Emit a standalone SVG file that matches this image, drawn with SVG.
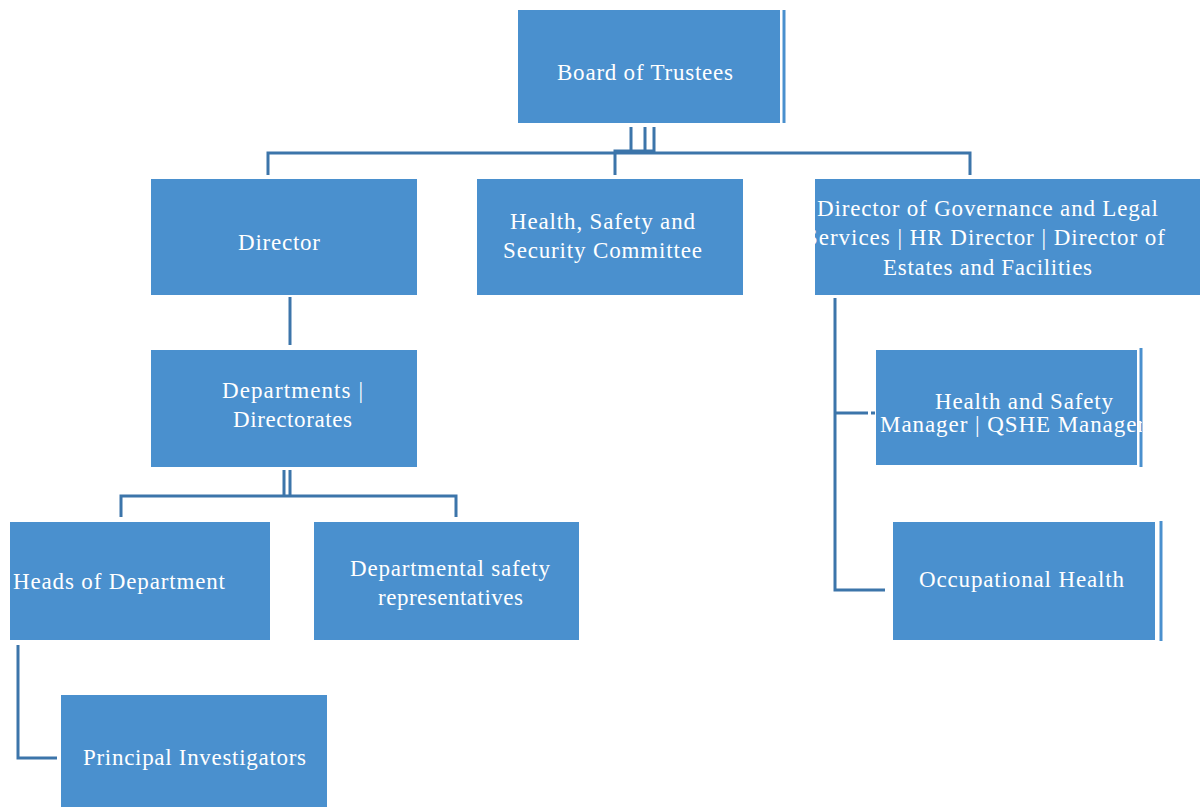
<svg xmlns="http://www.w3.org/2000/svg" width="1200" height="807" viewBox="0 0 1200 807">
<defs>
<style>
.box{fill:#4A90CE;}
.bar{stroke:#4A90CE;stroke-width:3;fill:none;}
.con{stroke:#3C75AA;stroke-width:3;fill:none;}
text{font-family:"Liberation Serif","Times New Roman",serif;font-size:23px;fill:#FFFFFF;}
</style>
<clipPath id="cDog"><rect x="815" y="179" width="385" height="116"/></clipPath>
<clipPath id="cHs"><rect x="876" y="350" width="266" height="115"/></clipPath>
</defs>
<rect width="1200" height="807" fill="#FFFFFF"/>
<g id="connectors">
<path class="con" d="M631 127V152M645 127V152M654 127V152"/>
<path class="con" d="M268 175V153H970V175"/>
<path class="con" d="M615 175V151H654"/>
<path class="con" d="M290 297V345"/>
<path class="con" d="M284 470V495M290 470V495"/>
<path class="con" d="M121 517V496H456V517"/>
<path class="con" d="M18 645V758H57"/>
<path class="con" d="M835 298V590H885M835 413H868M871 413H875"/>
</g>
<g id="board">
<rect class="box" x="518" y="10" width="262" height="113"/>
<path class="bar" d="M784 10V123"/>
<text x="557" y="80" textLength="176" lengthAdjust="spacing">Board of Trustees</text>
</g>
<g id="director">
<rect class="box" x="151" y="179" width="266" height="116"/>
<text x="238" y="250" textLength="82" lengthAdjust="spacing">Director</text>
</g>
<g id="hssc">
<rect class="box" x="477" y="179" width="266" height="116"/>
<text x="510" y="229" textLength="185" lengthAdjust="spacing">Health, Safety and</text>
<text x="503" y="258" textLength="199" lengthAdjust="spacing">Security Committee</text>
</g>
<g id="dog">
<rect class="box" x="815" y="179" width="385" height="116"/>
<g clip-path="url(#cDog)">
<text x="817" y="216" textLength="341" lengthAdjust="spacing">Director of Governance and Legal</text>
<text x="805" y="245" textLength="360" lengthAdjust="spacing">Services | HR Director | Director of</text>
<text x="883" y="275" textLength="209" lengthAdjust="spacing">Estates and Facilities</text>
</g>
</g>
<g id="departments">
<rect class="box" x="151" y="350" width="266" height="117"/>
<text x="222" y="398" textLength="141" lengthAdjust="spacing">Departments |</text>
<text x="233" y="427" textLength="119" lengthAdjust="spacing">Directorates</text>
</g>
<g id="heads">
<rect class="box" x="10" y="522" width="260" height="118"/>
<text x="13" y="589" textLength="212" lengthAdjust="spacing">Heads of Department</text>
</g>
<g id="dsr">
<rect class="box" x="314" y="522" width="265" height="118"/>
<text x="350" y="576" textLength="200" lengthAdjust="spacing">Departmental safety</text>
<text x="378" y="605" textLength="145" lengthAdjust="spacing">representatives</text>
</g>
<g id="pi">
<rect class="box" x="61" y="695" width="266" height="112"/>
<text x="83" y="765" textLength="223" lengthAdjust="spacing">Principal Investigators</text>
</g>
<g id="hsm">
<rect class="box" x="876" y="350" width="261" height="115"/>
<path class="bar" d="M1141 348V467"/>
<g clip-path="url(#cHs)">
<text x="935" y="409" textLength="178" lengthAdjust="spacing">Health and Safety</text>
<text x="880" y="432" textLength="265" lengthAdjust="spacing">Manager | QSHE Manager</text>
</g>
</g>
<g id="oh">
<rect class="box" x="893" y="522" width="262" height="118"/>
<path class="bar" d="M1161 521V641"/>
<text x="919" y="587" textLength="205" lengthAdjust="spacing">Occupational Health</text>
</g>
</svg>
